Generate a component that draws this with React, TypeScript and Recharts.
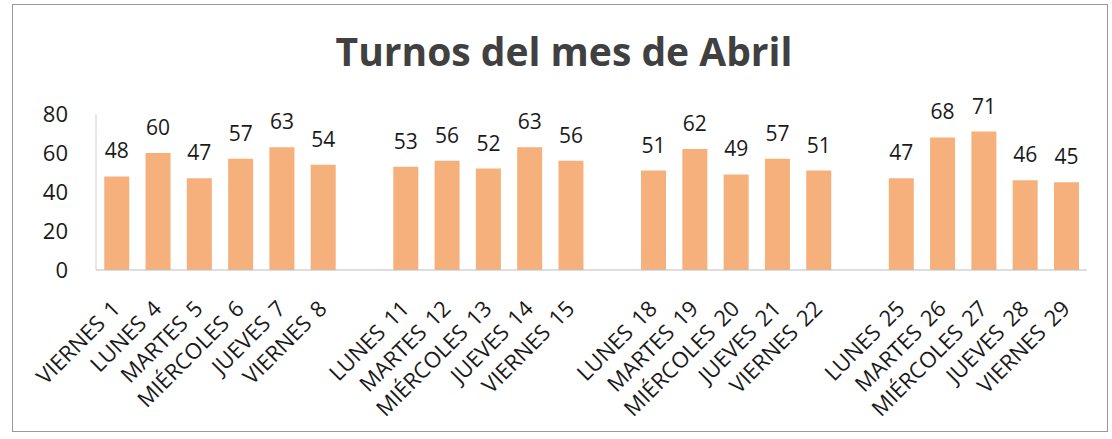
import React from 'react';
import { BarChart, Bar, XAxis, YAxis, LabelList } from 'recharts';

// one array per week, gaps are inserted between weeks
const week1Days = ['VIERNES 1', 'LUNES 4', 'MARTES 5', 'MIÉRCOLES 6', 'JUEVES 7', 'VIERNES 8'];
const week1Values = [48, 60, 47, 57, 63, 54];
const week2Days = ['LUNES 11', 'MARTES 12', 'MIÉRCOLES 13', 'JUEVES 14', 'VIERNES 15'];
const week2Values = [53, 56, 52, 63, 56];
const week3Days = ['LUNES 18', 'MARTES 19', 'MIÉRCOLES 20', 'JUEVES 21', 'VIERNES 22'];
const week3Values = [51, 62, 49, 57, 51];
const week4Days = ['LUNES 25', 'MARTES 26', 'MIÉRCOLES 27', 'JUEVES 28', 'VIERNES 29'];
const week4Values = [47, 68, 71, 46, 45];
const yTicks = [0, 20, 40, 60, 80];

const weeks = [
    [week1Days, week1Values],
    [week2Days, week2Values],
    [week3Days, week3Values],
    [week4Days, week4Values],
] as const;

const data: { day: string; turnos: number | null }[] = [];
weeks.forEach(([days, values], w) => {
    if (w > 0) data.push({ day: 'gap' + w, turnos: null });
    days.forEach((d, i) => data.push({ day: d, turnos: values[i] }));
});

const FONT = '"Open Sans", sans-serif';

const DayTick = (props: any) => {
    const { x, y, payload } = props;
    if (String(payload.value).startsWith('gap')) return null;
    return (
        <g transform={`translate(${x + 5},${y + 38})`}>
            <text
                x={0}
                y={0}
                textAnchor="end"
                transform="rotate(-45)"
                fill="#1a1a1a"
                fontSize={22}
                fontFamily={FONT}
                wordSpacing={3}
            >
                {payload.value}
            </text>
        </g>
    );
};

const App: React.FC = () => {
    return (
        <div style={{ position: 'absolute', left: 0, top: 0, width: 1112, height: 439, background: '#fff' }}>
            <div
                style={{
                    position: 'absolute',
                    left: 12,
                    top: 4,
                    width: 1096,
                    height: 428,
                    border: '1px solid #9a9a9a',
                    boxSizing: 'border-box',
                }}
            />
            <div
                style={{
                    position: 'absolute',
                    left: 0,
                    width: 1112,
                    top: 26,
                    textAlign: 'center',
                    paddingLeft: 16,
                    boxSizing: 'border-box',
                    fontFamily: FONT,
                    fontWeight: 700,
                    fontSize: 39,
                    color: '#404040',
                    lineHeight: '50px',
                }}
            >
                Turnos del mes de Abril
            </div>
            <div style={{ position: 'absolute', left: 0, top: 0 }}>
                <BarChart
                    width={1112}
                    height={439}
                    data={data}
                    margin={{ top: 114, right: 25, left: 46, bottom: 9 }}
                    barCategoryGap="20%"
                >
                    <XAxis
                        dataKey="day"
                        interval={0}
                        height={160}
                        tickLine={false}
                        tickSize={0}
                        axisLine={{ stroke: '#bdbdbd' }}
                        tick={<DayTick />}
                    />
                    <YAxis
                        width={50}
                        domain={[0, 80]}
                        ticks={yTicks}
                        tickLine={false}
                        axisLine={{ stroke: '#d0d0d0' }}
                        tickMargin={22}
                        tick={{ fill: '#1a1a1a', fontSize: 22, fontFamily: FONT }}
                    />
                    <Bar dataKey="turnos" fill="#F5B07C" isAnimationActive={false}>
                        <LabelList
                            dataKey="turnos"
                            position="top"
                            offset={18}
                            fill="#1a1a1a"
                            fontSize={21}
                            fontFamily={FONT}
                            formatter={(v: any) => (v == null ? '' : v)}
                        />
                    </Bar>
                </BarChart>
            </div>
        </div>
    );
};

export default App;
